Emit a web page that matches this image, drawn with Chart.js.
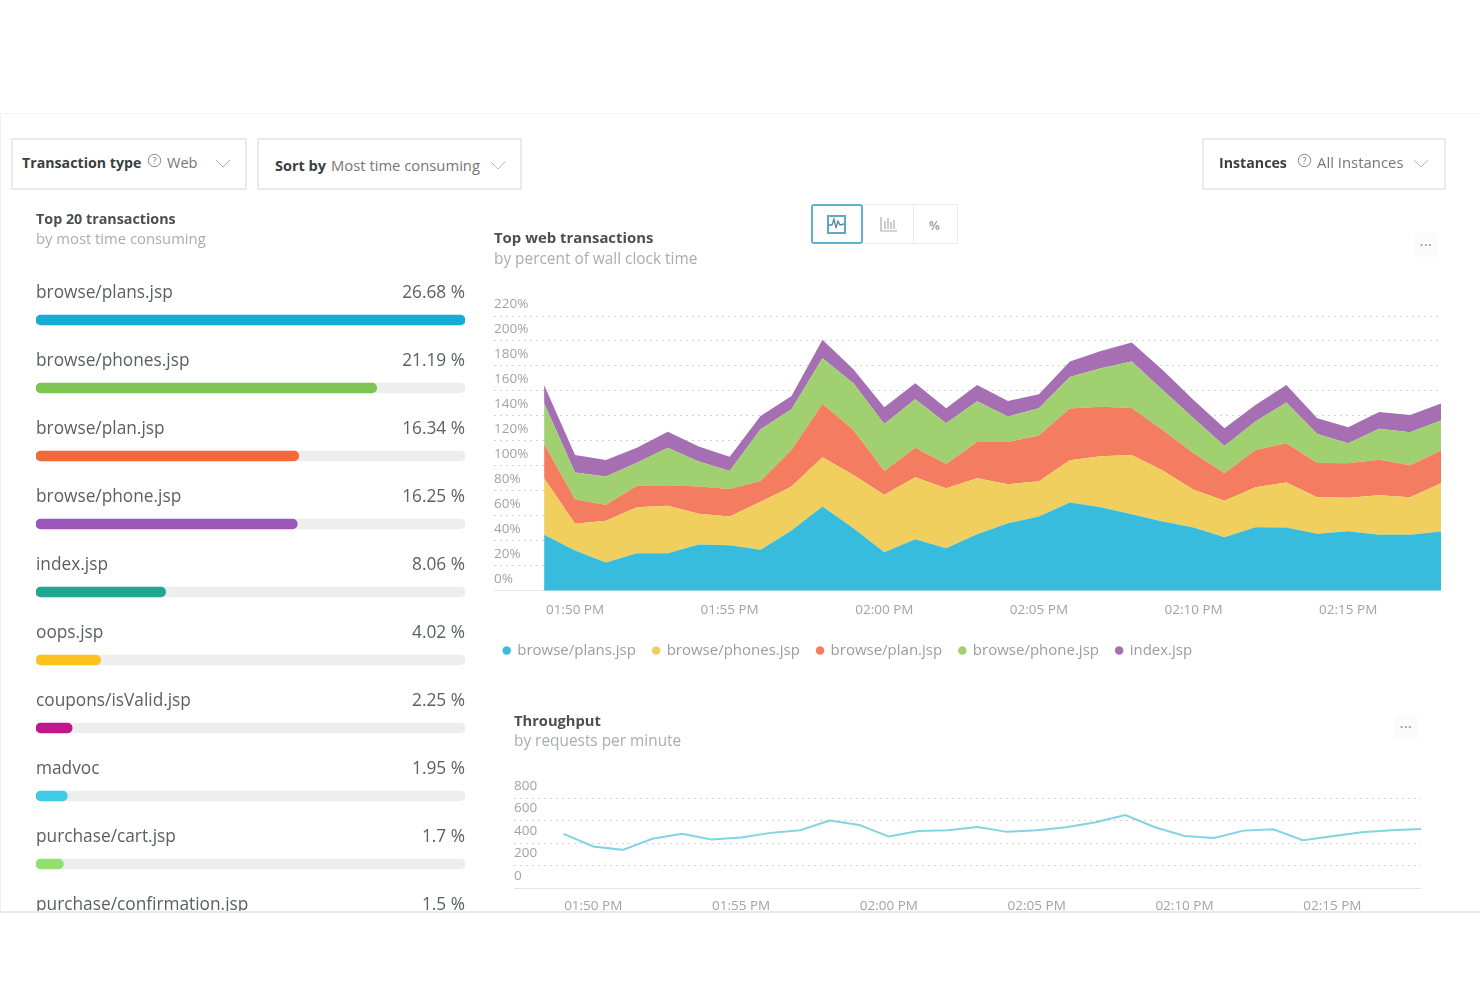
<!DOCTYPE html>
<html>
<head>
<meta charset="utf-8">
<title>Transactions</title>
<script src="https://cdn.jsdelivr.net/npm/chart.js@4/dist/chart.umd.min.js"></script>
<style>
    html, body { margin: 0; background: #fff; font-family: "Open Sans", sans-serif; }
    #page { position: absolute; left: 0; top: 113px; width: 1480px; height: 799px; overflow: hidden;
            box-sizing: border-box; border-top: 1px solid #f3f3f3; border-left: 1px solid #f0f0f0; filter: blur(0.5px); }
    #bottomLine { position: absolute; left: 0; top: 911px; width: 1480px; height: 2px; background: #e9e9e9; }
    .abs { position: absolute; white-space: nowrap; }
    .box { position: absolute; box-sizing: border-box; border: 2px solid #e9eaea; height: 52px; background: #fff; }
    .bold { font-weight: 700; color: #3a3f42; }
    .grey { color: #777; }
    .title { font-weight: 700; color: #4a4f52; }
    .sub { color: #a9adb0; }
    .canvasBox { position: absolute; }
    .canvasBox canvas { display: block; }
    .dots { position: absolute; width: 22px; height: 24px; background: #fbfbfb; color: #a5a5a5; font-size: 13px;
            font-weight: 700; text-align: center; line-height: 16px; letter-spacing: 0.5px; }
</style>
</head>
<body>
<div id="page">
    <!-- page coordinates minus the 113px offset of #page -->
    <div class="box" style="left:10px;top:24px;width:236px"></div>
    <div class="abs bold" style="left:21px;top:39px;font-size:14.2px">Transaction type</div>
    <svg class="abs" style="left:146px;top:39px" width="15" height="15"><circle cx="7.5" cy="7.5" r="6.2" fill="none" stroke="#888"/><text x="7.5" y="11" font-size="9" text-anchor="middle" fill="#777">?</text></svg>
    <div class="abs grey" style="left:166px;top:39px;font-size:14.5px">Web</div>
    <svg class="abs" style="left:214px;top:45px" width="16" height="10"><path d="M1 1 L8 8 L15 1" fill="none" stroke="#aaa"/></svg>

    <div class="box" style="left:256px;top:24px;width:265px"></div>
    <div class="abs bold" style="left:274px;top:42px;font-size:14.5px">Sort by</div>
    <div class="abs grey" style="left:330px;top:41px;font-size:14.8px">Most time consuming</div>
    <svg class="abs" style="left:489px;top:47px" width="16" height="10"><path d="M1 1 L8 8 L15 1" fill="none" stroke="#bbb"/></svg>

    <div class="box" style="left:1201px;top:24px;width:244px"></div>
    <div class="abs bold" style="left:1218px;top:39px;font-size:14.2px">Instances</div>
    <svg class="abs" style="left:1296px;top:39px" width="15" height="15"><circle cx="7.5" cy="7.5" r="6.2" fill="none" stroke="#888"/><text x="7.5" y="11" font-size="9" text-anchor="middle" fill="#777">?</text></svg>
    <div class="abs grey" style="left:1316px;top:38px;font-size:14.9px">All Instances</div>
    <svg class="abs" style="left:1412px;top:45px" width="16" height="10"><path d="M1 1 L8 8 L15 1" fill="none" stroke="#bbb"/></svg>

    <div class="abs title" style="left:35px;top:95px;font-size:14.3px">Top 20 transactions</div>
    <div class="abs sub" style="left:35px;top:114px;font-size:14.8px">by most time consuming</div>

    <div class="abs title" style="left:493px;top:113px;font-size:14.9px">Top web transactions</div>
    <div class="abs sub" style="left:493px;top:134px;font-size:15.4px">by percent of wall clock time</div>

    <!-- chart type switch -->
    <div class="box" style="left:861px;top:90px;width:96px;height:40px;border-width:1px;border-radius:3px"></div>
    <div class="abs" style="left:912px;top:90px;width:1px;height:40px;background:#e6e7e8"></div>
    <div class="box" style="left:810px;top:90px;width:52px;height:40px;border:2px solid #5fb3cb;border-radius:3px"></div>
    <svg class="abs" style="left:826px;top:101px" width="20" height="20"><rect x="1" y="1" width="17" height="17" fill="none" stroke="#5fa9bf" stroke-width="2"/><path d="M2 10 L5 10 L7 4 L9 13 L11 6 L13 10 L17 9" fill="none" stroke="#4f8a9b" stroke-width="1.3"/></svg>
    <svg class="abs" style="left:878px;top:102px" width="20" height="19"><path d="M2 1 V15 H18 M6 5 V13 M9 2 V13 M12 6 V13 M15 4 V13" fill="none" stroke="#a8abad" stroke-width="1.2"/></svg>
    <div class="abs" style="left:928px;top:103px;font-size:12px;font-weight:700;color:#a3a6a8">%</div>
    <div class="dots" style="left:1414px;top:119px">...</div>
    <div class="dots" style="left:1394px;top:601px">...</div>

    <div class="canvasBox" style="left:35px;top:158px"><canvas id="listChart" width="429" height="694"></canvas></div>
    <div class="canvasBox" style="left:493px;top:177px"><canvas id="areaChart" width="947" height="377"></canvas></div>

    <div class="abs title" style="left:513px;top:596px;font-size:14.7px">Throughput</div>
    <div class="abs sub" style="left:513px;top:616px;font-size:15.4px">by requests per minute</div>
    <div class="canvasBox" style="left:513px;top:659px"><canvas id="lineChart" width="907" height="145"></canvas></div>
</div>
<div id="bottomLine"></div>

<script>
// Left list
const transactionNames = ['browse/plans.jsp', 'browse/phones.jsp', 'browse/plan.jsp', 'browse/phone.jsp', 'index.jsp',
    'oops.jsp', 'coupons/isValid.jsp', 'madvoc', 'purchase/cart.jsp', 'purchase/confirmation.jsp'];
const transactionShares = [26.68, 21.19, 16.34, 16.25, 8.06, 4.02, 2.25, 1.95, 1.7, 1.5];
const transactionColors = ['#13add6', '#7ec552', '#f4693a', '#9b57bb', '#1fa78f', '#fcc31e', '#c4168c', '#3fcbe8', '#94e06f', '#7a8ad8'];

// Time axis, in minutes after 01:49 PM
const minutes = [0, 1, 2, 3, 4, 5, 6, 7, 8, 9, 10, 11, 12, 13, 14, 15, 16, 17, 18, 19, 20, 21, 22, 23, 24, 25, 26, 27, 28, 29];
const timeTicks = [1, 6, 11, 16, 21, 26];
const timeLabels = ['01:50 PM', '01:55 PM', '02:00 PM', '02:05 PM', '02:10 PM', '02:15 PM'];

// Stacked area series, percent of wall clock time
const plansSeries = [44.8, 32.3, 22.7, 30.1, 30.1, 37.1, 36.5, 32.8, 48.3, 67.5, 50.1, 30.9, 41.3, 34.1, 45.3, 54.1, 59.5, 70.7, 66.9, 61.3, 55.5, 50.7, 42.9, 50.9, 50.7, 45.6, 47.7, 44.8, 44.8, 47.5];
const phonesSeries = [45.3, 21.3, 33.3, 36.8, 37.9, 24.5, 22.9, 38.4, 35.2, 39.5, 42.7, 45.9, 49.6, 48, 44.8, 31.2, 28.3, 33.9, 40.8, 47.5, 40.8, 30.1, 29.1, 32, 36, 29.3, 26.7, 31.7, 30.1, 38.7];
const planSeries = [27.5, 19.5, 12.8, 17.3, 16.5, 21.9, 22.1, 16.8, 29.3, 42.7, 36, 19.2, 23.7, 19.5, 29.1, 33.9, 36.5, 41.3, 39.7, 37.6, 32.5, 29.3, 22.1, 29.9, 31.5, 27.5, 27.7, 28.5, 25.6, 26.1];
const phoneSeries = [32.5, 21.6, 22.7, 18.4, 30.1, 20, 14.4, 41.3, 32.5, 36.5, 37.3, 37.6, 38.7, 32.5, 32.5, 20.3, 21.9, 25.3, 30.7, 37.1, 32, 28, 21.9, 22.7, 32.5, 23.2, 16, 24.8, 26.4, 24];
const indexSeries = [14.7, 14.1, 13.3, 12, 12.8, 12, 11.5, 10.7, 10.7, 14.7, 11.2, 13.3, 12.8, 12, 13.1, 12.5, 11.2, 12.3, 13.9, 15.2, 16, 14.7, 14.1, 13.3, 14.1, 12.5, 12.8, 13.3, 13.9, 13.6];

// Requests per minute
const throughputSeries = [481, 369, 339, 437, 481, 431, 448, 490, 513, 599, 560, 457, 507, 513, 543, 499, 513, 540, 584, 649, 540, 463, 445, 510, 522, 425, 460, 496, 513, 525];

const tickColor = '#a0a3a5';
const gridColor = '#d4d4d4';
const font = 'Open Sans';

function toPoints(values) {
    return values.map((v, i) => ({ x: minutes[i], y: v }));
}

function timeScale(leftMinutes, axisHeight, labelGap) {
    return {
        type: 'linear',
        min: leftMinutes,
        max: minutes[minutes.length - 1],
        afterBuildTicks: scale => { scale.ticks = timeTicks.map(v => ({ value: v })); },
        afterFit: scale => { scale.height = axisHeight; },
        ticks: {
            autoSkip: false,
            maxRotation: 0,
            padding: labelGap,
            color: tickColor,
            font: { family: font, size: 13.5 },
            callback: (value, index) => timeLabels[index]
        },
        grid: { display: false },
        border: { color: '#e6e6e6' }
    };
}

function valueScale(max, step, suffix, stacked) {
    return {
        stacked: stacked,
        min: 0,
        max: max,
        ticks: {
            stepSize: step,
            mirror: true,
            padding: 0,
            labelOffset: -12,
            color: tickColor,
            font: { family: font, size: 13.5 },
            callback: value => value + suffix
        },
        grid: { color: gridColor, drawTicks: false },
        border: { display: false, dash: [2, 4] }
    };
}

// Names and percentages above the progress bars
const rowLabels = {
    id: 'rowLabels',
    afterDatasetsDraw(chart) {
        const ctx = chart.ctx;
        const yScale = chart.scales.y;
        ctx.save();
        ctx.font = '17.3px "Open Sans"';
        ctx.fillStyle = '#5c6063';
        ctx.textBaseline = 'middle';
        transactionNames.forEach((name, i) => {
            const y = yScale.getPixelForValue(i) - 27;
            ctx.textAlign = 'left';
            ctx.fillText(name, chart.chartArea.left, y);
            ctx.textAlign = 'right';
            ctx.fillText(transactionShares[i] + ' %', chart.chartArea.right, y);
        });
        ctx.restore();
    }
};

// The legend padding also sets its left inset, pull the row back to where the reference has it
const legendShift = {
    id: 'legendShift',
    afterLayout(chart) {
        chart.legend.left -= 7.5;
    }
};

new Chart('listChart', {
    type: 'bar',
    data: {
        labels: transactionNames,
        datasets: [{
            data: transactionShares,
            backgroundColor: transactionColors,
            order: 1
        }, {
            data: transactionNames.map(() => transactionShares[0]),
            backgroundColor: '#eeeeee',
            order: 2
        }]
    },
    options: {
        indexAxis: 'y',
        responsive: false,
        animation: false,
        layout: { padding: { top: 14 } },
        datasets: { bar: { grouped: false, barThickness: 10, borderRadius: 5, borderSkipped: false } },
        plugins: { legend: { display: false }, tooltip: { enabled: false } },
        scales: {
            x: { display: false, min: 0, max: transactionShares[0] },
            y: { display: false }
        }
    },
    plugins: [rowLabels]
});

const areaSeries = [
    { label: 'browse/plans.jsp', values: plansSeries, color: '#38bcdd' },
    { label: 'browse/phones.jsp', values: phonesSeries, color: '#f0cf5f' },
    { label: 'browse/plan.jsp', values: planSeries, color: '#f47c60' },
    { label: 'browse/phone.jsp', values: phoneSeries, color: '#a1d070' },
    { label: 'index.jsp', values: indexSeries, color: '#a66fb3' }
];

new Chart('areaChart', {
    type: 'line',
    data: {
        datasets: areaSeries.map((s, i) => ({
            label: s.label,
            data: toPoints(s.values),
            backgroundColor: s.color,
            borderColor: s.color,
            borderWidth: 0,
            pointRadius: 0,
            tension: 0,
            fill: i === 0 ? 'origin' : '-1'
        }))
    },
    options: {
        responsive: false,
        animation: false,
        layout: { padding: { top: 25 } },
        plugins: {
            tooltip: { enabled: false },
            legend: {
                position: 'bottom',
                align: 'start',
                labels: {
                    usePointStyle: true,
                    pointStyle: 'circle',
                    boxWidth: 6,
                    boxHeight: 6,
                    padding: 17.2,
                    color: '#9a9da0',
                    font: { family: font, size: 15 }
                }
            }
        },
        scales: {
            x: timeScale(-1.62, 35, 3),
            y: valueScale(220, 20, '%', true)
        }
    },
    plugins: [legendShift]
});

new Chart('lineChart', {
    type: 'line',
    data: {
        datasets: [{
            data: toPoints(throughputSeries),
            borderColor: '#82d3e4',
            borderWidth: 2,
            pointRadius: 0,
            tension: 0,
            fill: false
        }]
    },
    options: {
        responsive: false,
        animation: false,
        layout: { padding: { top: 25 } },
        plugins: { legend: { display: false }, tooltip: { enabled: false } },
        scales: {
            x: timeScale(-1.68, 30, 2),
            y: valueScale(800, 200, '', false)
        }
    }
});
</script>
</body>
</html>
